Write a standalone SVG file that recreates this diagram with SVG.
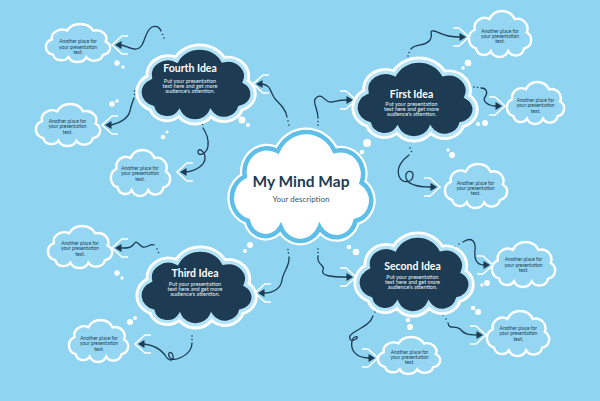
<svg xmlns="http://www.w3.org/2000/svg" xmlns:xlink="http://www.w3.org/1999/xlink" width="600" height="401" viewBox="0 0 600 401">
<style>
.cloudpath{vector-effect:non-scaling-stroke}
.cOut{fill:none;stroke:#ffffff;stroke-width:9}
.cIn{fill:#ffffff;stroke:#5ebfe8;stroke-width:4.5}
.iOut{fill:none;stroke:#ffffff;stroke-width:9}
.iIn{fill:#1d3b53;stroke:#b3e3f7;stroke-width:3.5}
.sm{fill:#95d7f3;stroke:#ffffff;stroke-width:2.4}
.title{font-family:Lato,"Open Sans",sans-serif;font-weight:700;fill:#ffffff;text-anchor:middle}
.body{font-family:Lato,"Open Sans",sans-serif;fill:#e6f3fa;text-anchor:middle;font-size:5.5px}
.note{font-family:Lato,"Open Sans",sans-serif;fill:#1d3b53;text-anchor:middle;font-size:4.9px}
.conn{fill:none;stroke:#1d3b53;stroke-width:1.3;stroke-linecap:round}
.dot{fill:#1d3b53}
.bub{fill:#ffffff}
</style>
<defs>
<path id="cloud" class="cloudpath" d="M14,58 A15,15 0 0 1 12,30 A15,15 0 0 1 34,14 A21,21 0 0 1 72,14 A15,15 0 0 1 90,34 A13,13 0 0 1 86,58 A13,13 0 0 1 62,62 A14,14 0 0 1 36,62 A12,12 0 0 1 14,58 Z"/>
<g id="chev">
<path d="M-16,-9 L-10,-9 L0,0 L-10,9 L-16,9" fill="none" stroke="#ffffff" stroke-width="1.6"/>
<path d="M-3,0 L-9.5,-4 L-9.5,4 Z" fill="#1d3b53"/>
</g>
</defs>
<rect x="0" y="0" width="600" height="401" fill="#8fd4f1"/>

<g id="bubbles">
<circle class="bub" cx="117" cy="63" r="2.7"/><circle class="bub" cx="123" cy="67" r="1.7"/>
<circle class="bub" cx="112" cy="104" r="2.7"/><circle class="bub" cx="117" cy="101" r="1.8"/>
<circle class="bub" cx="163" cy="137" r="2.3"/><circle class="bub" cx="167" cy="132" r="1.6"/>
<circle class="bub" cx="242" cy="120" r="3.5"/><circle class="bub" cx="248" cy="125" r="2"/>
<circle class="bub" cx="367" cy="143" r="4"/><circle class="bub" cx="362" cy="152" r="2.3"/>
<circle class="bub" cx="468" cy="63" r="3.3"/><circle class="bub" cx="463" cy="68" r="1.8"/>
<circle class="bub" cx="485" cy="123" r="3"/><circle class="bub" cx="478" cy="124" r="2"/>
<circle class="bub" cx="452" cy="155" r="3"/><circle class="bub" cx="448" cy="150" r="1.7"/>
<circle class="bub" cx="250" cy="245" r="3"/><circle class="bub" cx="245" cy="251" r="2"/>
<circle class="bub" cx="349" cy="247" r="2.3"/><circle class="bub" cx="356" cy="252" r="3.3"/>
<circle class="bub" cx="487" cy="283" r="3"/><circle class="bub" cx="482" cy="285" r="1.7"/>
<circle class="bub" cx="473" cy="308" r="2.3"/><circle class="bub" cx="478" cy="312" r="3"/>
<circle class="bub" cx="408" cy="320" r="2.3"/><circle class="bub" cx="410" cy="327" r="3"/>
<circle class="bub" cx="130" cy="322" r="3"/><circle class="bub" cx="135" cy="318" r="2"/>
<circle class="bub" cx="117" cy="273" r="2.7"/><circle class="bub" cx="122" cy="278" r="1.7"/>
</g>

<g id="connectors">
<path class="conn" d="M121,45 C130,47 137,53 142,45 C146,38 146,30 152,27 C157,25 160,28 161,31"/>
<circle class="dot" cx="162.5" cy="34.5" r="0.8"/><circle class="dot" cx="164" cy="38" r="0.8"/>
<use xlink:href="#chev" href="#chev" transform="translate(112,45) scale(-1,1)"/>

<path class="conn" d="M111,125 C119,123 128,119 130,111 C131,105 133,101 134,98"/>
<circle class="dot" cx="134.5" cy="94.5" r="0.8"/><circle class="dot" cx="134.5" cy="91" r="0.8"/>
<use xlink:href="#chev" href="#chev" transform="translate(102,125) scale(-1,1)"/>

<path class="conn" d="M186,172 C196,171 205,165 205,158 C205,151 198,147 198,152 C198,157 207,154 208,146 C209,138 205,131 203,128"/>
<circle class="dot" cx="202.5" cy="124.5" r="0.8"/><circle class="dot" cx="202" cy="121" r="0.8"/>
<use xlink:href="#chev" href="#chev" transform="translate(177,172) scale(-1,1)"/>

<path class="conn" d="M262,84 C272,85 270,94 276,100 C281,105 286,110 287,117"/>
<circle class="dot" cx="288" cy="121" r="0.8"/><circle class="dot" cx="289" cy="125" r="0.8"/>
<use xlink:href="#chev" href="#chev" transform="translate(253,84) scale(-1,1)"/>

<path class="conn" d="M318,118 C318,108 311,101 317,97 C323,93 325,103 331,102 C337,101 340,100 347,100"/>
<circle class="dot" cx="318" cy="121.5" r="0.8"/><circle class="dot" cx="318" cy="125" r="0.8"/>
<use xlink:href="#chev" href="#chev" transform="translate(356,100)"/>

<path class="conn" d="M264,293 C274,293 281,288 282,280 C283,272 290,266 289,257"/>
<circle class="dot" cx="288.5" cy="253" r="0.8"/><circle class="dot" cx="288" cy="249.5" r="0.8"/>
<use xlink:href="#chev" href="#chev" transform="translate(255,293) scale(-1,1)"/>

<path class="conn" d="M318,256 C316,265 326,265 323,270 C320,276 332,277 347,277"/>
<circle class="dot" cx="318" cy="249" r="0.8"/><circle class="dot" cx="318" cy="252.5" r="0.8"/>
<use xlink:href="#chev" href="#chev" transform="translate(356,277)"/>

<path class="conn" d="M411,49 C416,43 425,47 430,40 C434,34 428,30 434,31 C440,32 442,37 460,37"/>
<circle class="dot" cx="409" cy="52.5" r="0.8"/><circle class="dot" cx="408" cy="56" r="0.8"/>
<use xlink:href="#chev" href="#chev" transform="translate(469,37)"/>

<path class="conn" d="M481,88 C487,88 488,93 485,97 C482,101 488,106 496,106"/>
<circle class="dot" cx="474" cy="87" r="0.8"/><circle class="dot" cx="477.5" cy="87.5" r="0.8"/>
<use xlink:href="#chev" href="#chev" transform="translate(505,106)"/>

<path class="conn" d="M409,155 C402,160 396,168 399,176 C402,184 412,183 413,176 C414,169 404,170 406,178 C408,185 418,187 431,187"/>
<circle class="dot" cx="410" cy="148" r="0.8"/><circle class="dot" cx="411.5" cy="151.5" r="0.8"/>
<use xlink:href="#chev" href="#chev" transform="translate(440,187)"/>

<path class="conn" d="M463,242 C472,236 476,242 475,250 C474,258 476,265 484,265"/>
<circle class="dot" cx="455" cy="247" r="0.8"/><circle class="dot" cx="459" cy="244" r="0.8"/>
<use xlink:href="#chev" href="#chev" transform="translate(493,265)"/>

<path class="conn" d="M448,323 C449,330 455,325 460,329 C464,334 468,335 477,335"/>
<circle class="dot" cx="443" cy="315" r="0.8"/><circle class="dot" cx="446" cy="319" r="0.8"/>
<use xlink:href="#chev" href="#chev" transform="translate(486,335)"/>

<path class="conn" d="M373,316 C370,325 360,328 353,333 C347,337 350,343 356,339 C360,336 354,335 352,341 C350,350 356,358 369,358"/>
<circle class="dot" cx="377" cy="308" r="0.8"/><circle class="dot" cx="375" cy="312" r="0.8"/>
<use xlink:href="#chev" href="#chev" transform="translate(378,358)"/>

<path class="conn" d="M121,248 C128,248 131,248 134,244 C137,239 139,246 143,247 C148,248 150,243 154,245"/>
<circle class="dot" cx="157" cy="249" r="0.8"/><circle class="dot" cx="158.5" cy="252.5" r="0.8"/>
<use xlink:href="#chev" href="#chev" transform="translate(112,248) scale(-1,1)"/>

<path class="conn" d="M144,344 C152,345 160,348 165,355 C168,361 174,362 173,356 C172,350 166,352 170,358 C175,362 186,356 190,350 C192,347 192,345 192,343"/>
<circle class="dot" cx="192" cy="339.5" r="0.8"/><circle class="dot" cx="192" cy="336" r="0.8"/>
<use xlink:href="#chev" href="#chev" transform="translate(135,344) scale(-1,1)"/>
</g>

<g id="center">
<use class="cOut" xlink:href="#cloud" href="#cloud" transform="translate(226.9,129) scale(1.496,1.582)"/>
<use class="cIn" xlink:href="#cloud" href="#cloud" transform="translate(226.9,129) scale(1.496,1.582)"/>
<text x="301" y="187" style="font-family:Lato,'Open Sans',sans-serif;font-weight:700;font-size:15.5px;fill:#1d3b53;text-anchor:middle">My Mind Map</text>
<text x="301" y="202" style="font-family:Lato,'Open Sans',sans-serif;font-size:8px;fill:#3d5668;text-anchor:middle">Your description</text>
</g>

<g id="fourth-idea">
<use class="iOut" xlink:href="#cloud" href="#cloud" transform="translate(135.9,46) scale(1.2056,1.0595)"/>
<use class="iIn" xlink:href="#cloud" href="#cloud" transform="translate(135.9,46) scale(1.2056,1.0595)"/>
<text class="title" x="190" y="71.7" font-size="10.5">Fourth Idea</text>
<text class="body" x="190" y="82.7">Put your presentation</text>
<text class="body" x="190" y="88">text here and get more</text>
<text class="body" x="190" y="93.3">audience's attention.</text>
</g>

<g id="first-idea">
<use class="iOut" xlink:href="#cloud" href="#cloud" transform="translate(351.7,58.9) scale(1.27,1.1176)"/>
<use class="iIn" xlink:href="#cloud" href="#cloud" transform="translate(351.7,58.9) scale(1.27,1.1176)"/>
<text class="title" x="411.5" y="97.7" font-size="10.5">First Idea</text>
<text class="body" x="411.5" y="105.5">Put your presentation</text>
<text class="body" x="411.5" y="110.8">text here and get more</text>
<text class="body" x="411.5" y="116.1">audience's attention.</text>
</g>

<g id="third-idea">
<use class="iOut" xlink:href="#cloud" href="#cloud" transform="translate(135.9,247.9) scale(1.2164,1.0885)"/>
<use class="iIn" xlink:href="#cloud" href="#cloud" transform="translate(135.9,247.9) scale(1.2164,1.0885)"/>
<text class="title" x="195" y="277.3" font-size="10.5">Third Idea</text>
<text class="body" x="195" y="285.5">Put your presentation</text>
<text class="body" x="195" y="290.8">text here and get more</text>
<text class="body" x="195" y="296.1">audience's attention.</text>
</g>

<g id="second-idea">
<use class="iOut" xlink:href="#cloud" href="#cloud" transform="translate(353.9,233.9) scale(1.2056,1.1176)"/>
<use class="iIn" xlink:href="#cloud" href="#cloud" transform="translate(353.9,233.9) scale(1.2056,1.1176)"/>
<text class="title" x="412.5" y="270" font-size="10.5">Second Idea</text>
<text class="body" x="412.5" y="278.5">Put your presentation</text>
<text class="body" x="412.5" y="283.8">text here and get more</text>
<text class="body" x="412.5" y="289.1">audience's attention.</text>
</g>

<g id="note-1">
<use class="sm" xlink:href="#cloud" href="#cloud" transform="translate(43.66,22.95) scale(0.6889,0.5515)"/>
<text class="note" x="78" y="43.3">Another place for</text><text class="note" x="78" y="48.6">your presentation</text><text class="note" x="78" y="53.9">text.</text>
</g>
<g id="note-2">
<use class="sm" xlink:href="#cloud" href="#cloud" transform="translate(33.66,102.84) scale(0.6889,0.6096)"/>
<text class="note" x="67.5" y="123">Another place for</text><text class="note" x="67.5" y="128.4">your presentation</text><text class="note" x="67.5" y="133.8">text.</text>
</g>
<g id="note-3">
<use class="sm" xlink:href="#cloud" href="#cloud" transform="translate(108.84,148.73) scale(0.6351,0.6676)"/>
<text class="note" x="140" y="169.5">Another place for</text><text class="note" x="140" y="175">your presentation</text><text class="note" x="140" y="180.5">text.</text>
</g>
<g id="note-4">
<use class="sm" xlink:href="#cloud" href="#cloud" transform="translate(45.66,224.84) scale(0.6889,0.6096)"/>
<text class="note" x="80" y="244.5">Another place for</text><text class="note" x="80" y="250">your presentation</text><text class="note" x="80" y="255.5">text.</text>
</g>
<g id="note-5">
<use class="sm" xlink:href="#cloud" href="#cloud" transform="translate(66.84,318.84) scale(0.6351,0.6096)"/>
<text class="note" x="99" y="339.5">Another place for</text><text class="note" x="99" y="345">your presentation</text><text class="note" x="99" y="350.5">text.</text>
</g>
<g id="note-6">
<use class="sm" xlink:href="#cloud" href="#cloud" transform="translate(466.73,9.73) scale(0.6674,0.6676)"/>
<text class="note" x="500" y="32.5">Another place for</text><text class="note" x="500" y="37.9">your presentation</text><text class="note" x="500" y="43.3">text.</text>
</g>
<g id="note-7">
<use class="sm" xlink:href="#cloud" href="#cloud" transform="translate(504.91,80.84) scale(0.6136,0.6096)"/>
<text class="note" x="535.5" y="102">Another place for</text><text class="note" x="535.5" y="107.4">your presentation</text><text class="note" x="535.5" y="112.8">text.</text>
</g>
<g id="note-8">
<use class="sm" xlink:href="#cloud" href="#cloud" transform="translate(442.73,162.79) scale(0.6674,0.6386)"/>
<text class="note" x="475.5" y="184.5">Another place for</text><text class="note" x="475.5" y="189.9">your presentation</text><text class="note" x="475.5" y="195.3">text.</text>
</g>
<g id="note-9">
<use class="sm" xlink:href="#cloud" href="#cloud" transform="translate(489.69,240.76) scale(0.6781,0.6531)"/>
<text class="note" x="523.5" y="261.2">Another place for</text><text class="note" x="523.5" y="266.7">your presentation</text><text class="note" x="523.5" y="272.2">text.</text>
</g>
<g id="note-10">
<use class="sm" xlink:href="#cloud" href="#cloud" transform="translate(484.73,309.76) scale(0.6674,0.6531)"/>
<text class="note" x="518.3" y="330">Another place for</text><text class="note" x="518.3" y="335.4">your presentation</text><text class="note" x="518.3" y="340.8">text.</text>
</g>
<g id="note-11">
<use class="sm" xlink:href="#cloud" href="#cloud" transform="translate(375.73,335.98) scale(0.6674,0.537)"/>
<text class="note" x="409.5" y="353.5">Another place for</text><text class="note" x="409.5" y="358.9">your presentation</text><text class="note" x="409.5" y="364.3">text.</text>
</g>
</svg>
